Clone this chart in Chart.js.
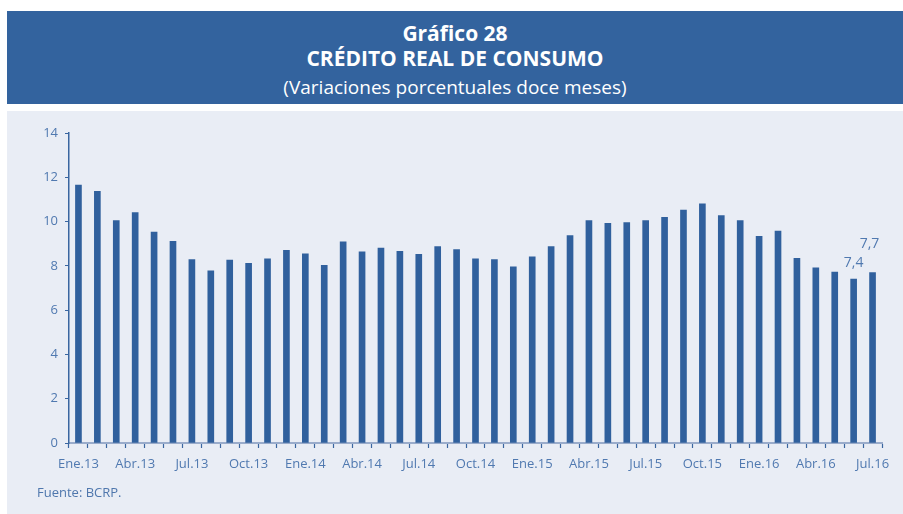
<!DOCTYPE html>
<html>
<head>
<meta charset="utf-8">
<script src="https://cdn.jsdelivr.net/npm/chart.js@4"></script>
<style>
    body { margin: 0; background: #fff; width: 903px; height: 514px; position: relative; overflow: hidden; font-family: "Open Sans", sans-serif; }
    .header { position: absolute; left: 7px; top: 11px; width: 896px; height: 93px; background: #33639e; color: #fff; text-align: center; }
    .header .l1 { position: absolute; top: 9px; width: 100%; font-size: 21px; font-weight: bold; line-height: 26px; }
    .header .l2 { position: absolute; top: 34px; width: 100%; font-size: 21px; font-weight: bold; line-height: 26px; }
    .header .l3 { position: absolute; top: 64px; width: 100%; font-size: 19px; line-height: 24px; }
    .panel { position: absolute; left: 7px; top: 111px; width: 896px; height: 403px; background: #e9edf5; }
    .panel canvas { position: absolute; left: 0; top: 0; }
    .source { position: absolute; left: 30px; top: 372px; font-size: 13px; color: #4f77ad; font-family: "Open Sans", sans-serif; }
</style>
</head>
<body>
<div class="header">
    <div class="l1">Gráfico 28</div>
    <div class="l2">CRÉDITO REAL DE CONSUMO</div>
    <div class="l3">(Variaciones porcentuales doce meses)</div>
</div>
<div class="panel">
    <canvas id="myChart" width="896" height="403"></canvas>
    <div class="source">Fuente: BCRP.</div>
</div>
<script>
const months = ['Ene', 'Feb', 'Mar', 'Abr', 'May', 'Jun', 'Jul', 'Ago', 'Set', 'Oct', 'Nov', 'Dic'];
const labels = [];
for (let y = 13; y <= 16; y++) {
    for (let m = 0; m < 12; m++) {
        if (y === 16 && m > 6) break;
        labels.push(months[m] + '.' + y);
    }
}

const consumo = [
    11.65, 11.37, 10.05, 10.41, 9.52, 9.11, 8.28, 7.78, 8.26, 8.11, 8.32, 8.70,
    8.54, 8.02, 9.08, 8.63, 8.80, 8.66, 8.52, 8.87, 8.73, 8.32, 8.28, 7.96,
    8.41, 8.87, 9.37, 10.05, 9.92, 9.95, 10.04, 10.19, 10.52, 10.80, 10.27, 10.04,
    9.33, 9.57, 8.34, 7.91, 7.72, 7.4, 7.7
];

const yTicks = [0, 2, 4, 6, 8, 10, 12, 14];

// etiquetas de los dos ultimos meses
const notes = [
    { idx: 41, text: '7,4', dx: 0, dy: -16 },
    { idx: 42, text: '7,7', dx: -3, dy: -28 }
];

const labelColor = '#5079b0';
const tickFont = { family: '"Open Sans", sans-serif', size: 13 };

const notePlugin = {
    id: 'notes',
    afterDatasetsDraw(chart) {
        const ctx = chart.ctx;
        const meta = chart.getDatasetMeta(0);
        ctx.save();
        ctx.fillStyle = labelColor;
        ctx.font = '14px "Open Sans", sans-serif';
        ctx.textAlign = 'center';
        ctx.textBaseline = 'middle';
        notes.forEach(n => {
            const bar = meta.data[n.idx];
            ctx.fillText(n.text, bar.x + n.dx, bar.y + n.dy);
        });
        ctx.restore();
    }
};

new Chart(document.getElementById('myChart'), {
    type: 'bar',
    data: {
        labels: labels,
        datasets: [{
            data: consumo,
            backgroundColor: '#30609d',
            borderColor: '#30609d',
            borderWidth: 0,
            barThickness: 6
        }]
    },
    options: {
        responsive: false,
        animation: false,
        layout: { padding: { top: 22, right: 21, bottom: 0, left: 0 } },
        plugins: {
            legend: { display: false },
            tooltip: { enabled: false }
        },
        scales: {
            x: {
                offset: true,
                grid: {
                    offset: true,
                    drawOnChartArea: false,
                    drawTicks: true,
                    tickLength: 5,
                    tickColor: '#3a66a0',
                    tickWidth: 1.2
                },
                border: { color: '#9aaccb', width: 2 },
                ticks: {
                    autoSkip: false,
                    maxRotation: 0,
                    color: labelColor,
                    font: tickFont,
                    padding: 8,
                    callback: (v, i) => (i % 3 === 0 ? labels[i] : '')
                },
                afterFit: (scale) => { scale.height = 71; }
            },
            y: {
                min: 0,
                max: 14,
                afterBuildTicks: (scale) => { scale.ticks = yTicks.map(v => ({ value: v })); },
                grid: {
                    drawOnChartArea: false,
                    drawTicks: true,
                    tickLength: 4,
                    tickColor: '#3a66a0'
                },
                border: { color: '#3a66a0', width: 1.5 },
                ticks: {
                    color: labelColor,
                    font: tickFont,
                    padding: 7
                },
                afterFit: (scale) => { scale.width = 62; }
            }
        }
    },
    plugins: [notePlugin]
});
</script>
</body>
</html>
